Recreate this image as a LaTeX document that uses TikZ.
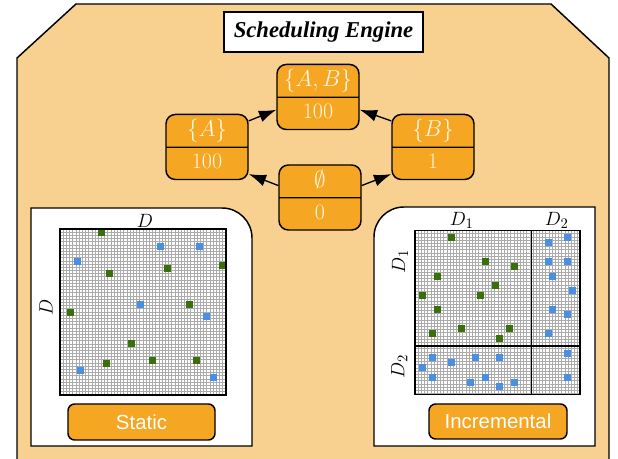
\documentclass[tikz,border=0pt]{standalone}
\usepackage{fontspec}
\newfontfamily\titlefont{Liberation Serif}
\newfontfamily\buttonfont{Liberation Sans}
\usetikzlibrary{shapes.multipart,arrows.meta}

\definecolor{peach}{RGB}{248,208,144}
\definecolor{stateorange}{RGB}{245,166,35}
\definecolor{statetext}{RGB}{255,246,220}
\definecolor{dotgreen}{RGB}{58,112,12}
\definecolor{dotblue}{RGB}{74,144,226}

% fixed-height strut so both halves of a state box are equal
\newcommand\partstrut{\rule[-4.3pt]{0pt}{16.9pt}}

\begin{document}
\begin{tikzpicture}[x=0.75pt,y=-0.75pt,
  frame/.style={draw=black, line width=1.1pt},
  state/.style={rectangle split, rectangle split parts=2, frame,
    fill=stateorange, rounded corners=7pt, text width=61.5pt,
    inner xsep=0pt, inner ysep=3.1pt, align=center, text=statetext,
    font=\fontsize{16.5}{19}\selectfont},
  arr/.style={line width=1pt, -{Latex[length=13pt,width=9pt]}},
  button/.style={frame, fill=stateorange, rounded corners=5pt,
    text=white, inner sep=0pt, font=\buttonfont\fontsize{15.3}{18}\selectfont},
  dimlabel/.style={inner sep=0pt, font=\fontsize{15}{17}\selectfont},
  gridline/.style={black!33, line width=0.6pt},
  gridframe/.style={draw=black, line width=1.1pt},
  gdot/.style={fill=dotgreen},
  bdot/.style={fill=dotblue}]

\useasboundingbox (0,0) rectangle (618,459);
\clip (0,0) rectangle (618,459);

% engine housing
\filldraw[frame, fill=peach] (17,470) -- (17,58) -- (76,4) -- (551,4) -- (609,58) -- (609,470);

\node[frame, fill=white, minimum width=149.25pt, minimum height=30pt, inner sep=0pt,
  font=\titlefont\fontsize{17}{20}\selectfont\bfseries\itshape] (title) at (323.5,32) {Scheduling Engine};

% lattice of states
\node[state] (ab) at (318,97) {\partstrut$\{A,B\}$\nodepart{two}\partstrut 100};
\node[state] (a) at (207,147) {\partstrut$\{A\}$\nodepart{two}\partstrut 100};
\node[state] (b) at (433,147) {\partstrut$\{B\}$\nodepart{two}\partstrut 1};
\node[state] (e) at (320,197.5) {\partstrut$\emptyset$\nodepart{two}\partstrut 0};

\draw[arr] (a.32) -- (ab.197);
\draw[arr] (b.148) -- (ab.343);
\draw[arr] (e.164) -- (a.327);
\draw[arr] (e.16) -- (b.213);

% static panel
\filldraw[frame, fill=white] (31,446) -- (31,208) -- (222,208)
  .. controls (238.6,208) and (252,221.4) .. (252,238) -- (252,446) -- cycle;

\begin{scope}
  \clip (60,229) rectangle (226,395);
  \foreach \i in {0,...,52} {
    \draw[gridline] (60+\i*3.1923,229) -- (60+\i*3.1923,395);
    \draw[gridline] (60,229+\i*3.1923) -- (226,229+\i*3.1923);
  }
  \foreach \x/\y in {101/233, 109/273.3, 167.3/268.7, 222.7/266, 70/312.3,
      189.3/305, 131/344, 106.3/363.3, 152.7/361, 196.7/361}
    \fill[gdot] (\x-3.5,\y-3.5) rectangle (\x+3.5,\y+3.5);
  \foreach \x/\y in {160/246.7, 199/246.7, 77.3/261.3, 140.7/305, 206.3/317,
      80/370.7, 213.3/378}
    \fill[bdot] (\x-3.5,\y-3.5) rectangle (\x+3.5,\y+3.5);
\end{scope}
\draw[gridframe] (60,229) rectangle (226,395);

\node[dimlabel] (sdx) at (145,221) {$D$};
\node[dimlabel, rotate=90] (sdy) at (46,307) {$D$};

\node[button, minimum width=110.25pt, minimum height=27pt] (static) at (141.5,422) {Static};

% incremental panel
\filldraw[frame, fill=white] (595,446) -- (595,207) -- (404,207)
  .. controls (387.4,207) and (374,220.4) .. (374,237) -- (374,446) -- cycle;

\begin{scope}
  \clip (415,230.7) rectangle (580,394.3);
  \foreach \i in {0,...,52} {
    \draw[gridline] (415+\i*3.1923,230.7) -- (415+\i*3.1923,394.3);
    \draw[gridline] (415,230.7+\i*3.1923) -- (580,230.7+\i*3.1923);
  }
  \foreach \x/\y in {451.3/237.7, 485.3/261.7, 514/266.7, 437/276.3, 495/286,
      422.7/295.7, 480.3/295.7, 437/310, 461/329, 509.3/329, 432/334, 499.7/338.7}
    \fill[gdot] (\x-3.5,\y-3.5) rectangle (\x+3.5,\y+3.5);
  \foreach \x/\y in {567.3/237.7, 548/242.7, 548/261.7, 567.3/261.7, 552.7/276.3,
      572/290.7, 552.7/310, 567.3/314.7, 548/334,
      432/358, 475.3/358, 499.7/358, 451.3/363, 422.7/367.7, 432/377.3,
      485/377.3, 470.7/382.3, 514/382.3, 499.7/387,
      567.3/353.3, 567.3/377.3}
    \fill[bdot] (\x-3.5,\y-3.5) rectangle (\x+3.5,\y+3.5);
\end{scope}
\draw[gridframe] (415,230.7) rectangle (580,394.3);
\draw[gridframe] (531.3,230.7) -- (531.3,394.3);
\draw[gridframe] (415,346) -- (580,346);

\node[dimlabel] (idx1) at (461.7,220.7) {$D_1$};
\node[dimlabel] (idx2) at (556.7,220.7) {$D_2$};
\node[dimlabel, rotate=90] (idy1) at (400,261.7) {$D_1$};
\node[dimlabel, rotate=90] (idy2) at (399.3,366.7) {$D_2$};

\node[button, minimum width=103.5pt, minimum height=26.25pt] (incr) at (498,421.5) {Incremental};

\end{tikzpicture}
\end{document}
